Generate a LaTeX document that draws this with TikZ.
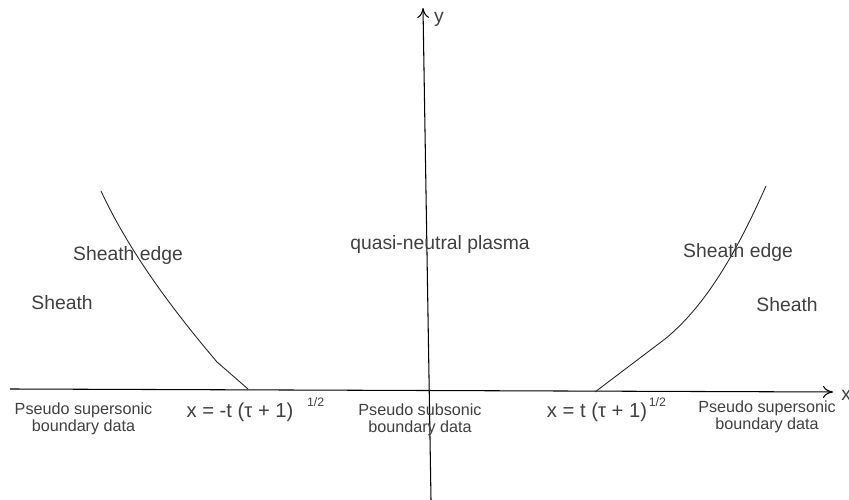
\documentclass[tikz,border=0pt]{standalone}
\usepackage{fontspec}
\setmainfont{Liberation Sans}
\usetikzlibrary{arrows.meta,positioning}
\definecolor{txtGray}{HTML}{404040}

\begin{document}
\begin{tikzpicture}[
  axis/.style={-{To[length=2mm,width=2.4mm]}, line width=0.6pt},
  edgeline/.style={line width=0.5pt, color=black!85},
  lbl/.style={text=txtGray, font=\fontsize{11}{13}\selectfont, inner sep=0pt},
  bdata/.style={text=txtGray, align=center, font=\fontsize{9.2}{9.8}\selectfont, inner sep=0pt},
  formula/.style={text=txtGray, font=\fontsize{11.5}{13}\selectfont, inner sep=0pt},
  expo/.style={text=txtGray, font=\fontsize{7}{8}\selectfont, inner sep=0pt}
]
  \useasboundingbox (0,0) rectangle (16.98,10);

  % axes
  \coordinate (xstart) at (0.2,2.22);
  \coordinate (xend) at (16.66,2.16);
  \coordinate (ystart) at (8.62,0);
  \coordinate (yend) at (8.46,9.84);
  \draw[axis] (xstart) -- (xend);
  \draw[axis] (ystart) -- (yend);
  \node[lbl, anchor=west] (xlab) at (16.82,2.1) {x};
  \node[lbl] (ylab) at (8.78,9.62) {y};

  % sheath edges
  \coordinate (lfoot) at (4.96,2.22);
  \coordinate (lkink) at (4.34,2.76);
  \coordinate (ltop) at (2.02,6.18);
  \coordinate (rfoot) at (11.9,2.16);
  \coordinate (rkink) at (13.3,3.22);
  \coordinate (rtop) at (15.32,6.28);
  \draw[edgeline] (ltop) .. controls (2.6,4.93) and (3.5,3.75) .. (lkink) -- (lfoot);
  \draw[edgeline] (rfoot) -- (rkink) .. controls (14.2,3.95) and (14.84,5.2) .. (rtop);

  % regions
  \node[lbl] (ledge) at (2.56,4.88) {Sheath edge};
  \node[lbl] (lsheath) at (1.24,3.94) {Sheath};
  \node[lbl] (plasma) at (8.8,5.1) {quasi-neutral plasma};
  \node[lbl] (redge) at (14.76,4.94) {Sheath edge};
  \node[lbl] (rsheath) at (15.74,3.9) {Sheath};

  % boundary data
  \node[bdata] (lsuper) at (1.67,1.62) {Pseudo supersonic\\boundary data};
  \node[bdata] (sub) at (8.4,1.6) {Pseudo subsonic\\boundary data};
  \node[bdata] (rsuper) at (15.34,1.66) {Pseudo supersonic\\boundary data};

  \node[formula] (lform) at (4.8,1.76) {x = -t (τ + 1)};
  \node[expo, right=0.26cm of lform.north east] (lexp) {1/2};
  \node[formula] (rform) at (11.94,1.76) {x = t (τ + 1)};
  \node[expo, right=0.02cm of rform.north east] (rexp) {1/2};
\end{tikzpicture}
\end{document}
